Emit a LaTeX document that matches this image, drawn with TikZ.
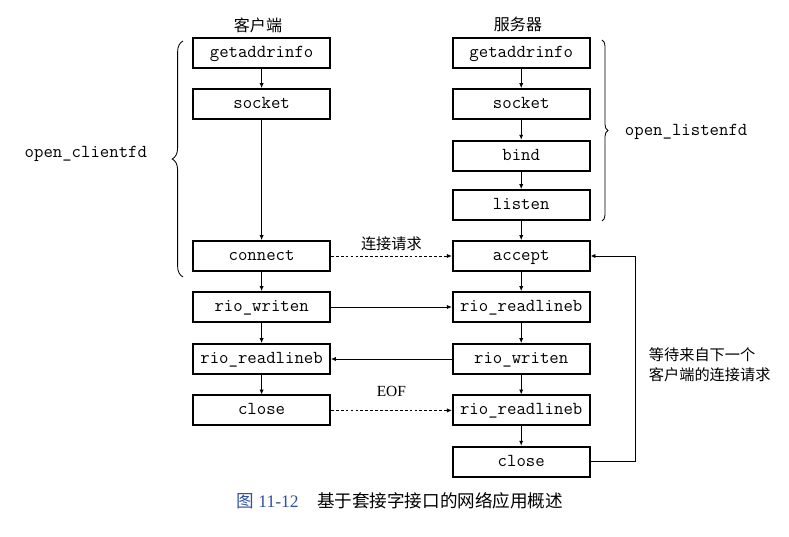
\documentclass[tikz,border=0pt]{standalone}
\usepackage{fontspec}
\setmainfont{Liberation Serif}
\newfontfamily\cjk{Noto Sans CJK SC}
\usepackage{xcolor}
\usetikzlibrary{arrows.meta}
\usetikzlibrary{decorations.pathreplacing}
\definecolor{capblue}{RGB}{48,80,160}

\begin{document}
\begin{tikzpicture}[
    box/.style={draw,line width=1.3pt,minimum width=3.42cm,minimum height=0.75cm,inner sep=0pt,
        text height=8.6pt,text depth=2.2pt,
        font=\ttfamily\fontsize{13pt}{15pt}\selectfont},
    arr/.style={line width=0.6pt,-{Latex[length=3.5pt,width=3pt]}},
    dasharr/.style={arr,dash pattern=on 2pt off 1.5pt},
    zh/.style={font=\cjk\fontsize{10.8pt}{14.2pt}\selectfont},
    lbl/.style={font=\ttfamily\fontsize{13pt}{15pt}\selectfont}
    ]
        %    \draw [help lines] (0,0) grid (20,14);
        \useasboundingbox (0,0) rectangle (19.725,13.4);

        % client
        \path node (cget) [box] at (6.54,12.075) {getaddrinfo};
        \path node (csock) [box] at (6.54,10.8) {socket};
        \path node (cconn) [box] at (6.54,7.0) {connect};
        \path node (cwrite) [box] at (6.54,5.725) {rio\_writen};
        \path node (cread) [box] at (6.54,4.425) {rio\_readlineb};
        \path node (cclose) [box] at (6.54,3.14) {close};

        % server
        \path node (sget) [box] at (13.03,12.075) {getaddrinfo};
        \path node (ssock) [box] at (13.03,10.8) {socket};
        \path node (sbind) [box] at (13.03,9.51) {bind};
        \path node (slist) [box] at (13.03,8.275) {listen};
        \path node (sacc) [box] at (13.03,7.0) {accept};
        \path node (sread) [box] at (13.03,5.725) {rio\_readlineb};
        \path node (swrite) [box] at (13.03,4.425) {rio\_writen};
        \path node (sreadb) [box] at (13.03,3.14) {rio\_readlineb};
        \path node (sclose) [box] at (13.03,1.86) {close};

        \path node (chead) [zh,font=\cjk\fontsize{11.4pt}{14pt}\selectfont] at (6.45,12.76) {客户端};
        \path node (shead) [zh,font=\cjk\fontsize{11.4pt}{14pt}\selectfont] at (12.95,12.78) {服务器};

        % braces
        \draw[line width=0.6pt,decorate,decoration={brace,amplitude=0.27cm}] (4.575,6.475) -- (4.575,12.375);
        \path node (cfd) [lbl,anchor=east] at (3.8,9.55) {open\_clientfd};
        \draw[line width=0.6pt,decorate,decoration={brace,amplitude=0.15cm}] (15.05,12.4) -- (15.05,7.875);
        \path node (sfd) [lbl,anchor=west] at (15.5,10.1) {open\_listenfd};

        \draw[arr] (cget) -- (csock);
        \draw[arr] (csock) -- (cconn);
        \draw[arr] (cconn) -- (cwrite);
        \draw[arr] (cwrite) -- (cread);
        \draw[arr] (cread) -- (cclose);

        \draw[arr] (sget) -- (ssock);
        \draw[arr] (ssock) -- (sbind);
        \draw[arr] (sbind) -- (slist);
        \draw[arr] (slist) -- (sacc);
        \draw[arr] (sacc) -- (sread);
        \draw[arr] (sread) -- (swrite);
        \draw[arr] (swrite) -- (sreadb);
        \draw[arr] (sreadb) -- (sclose);

        \draw[dasharr] (cconn) -- node (lconn) [zh,above] {连接请求} (sacc);
        \draw[arr] (cwrite) -- (sread);
        \draw[arr] (swrite) -- (cread);
        \draw[dasharr] (cclose) -- node (leof) [above=6pt,font=\fontsize{11pt}{13pt}\selectfont] {EOF} (sreadb);

        \draw[arr] (sclose.east) -- ++(1.125,0) |- (sacc.east);
        \path node (lwait) [zh,anchor=west,align=left] at (16.1,4.275) {等待来自下一个\\客户端的连接请求};

        \path node (cap) at (10,0.875) {{\color{capblue}\cjk\fontsize{12.5pt}{14pt}\selectfont 图\ \rmfamily 11-12}\hspace{1.3em}{\cjk\fontsize{12.5pt}{14pt}\selectfont 基于套接字接口的网络应用概述}};
    \end{tikzpicture}
\end{document}
